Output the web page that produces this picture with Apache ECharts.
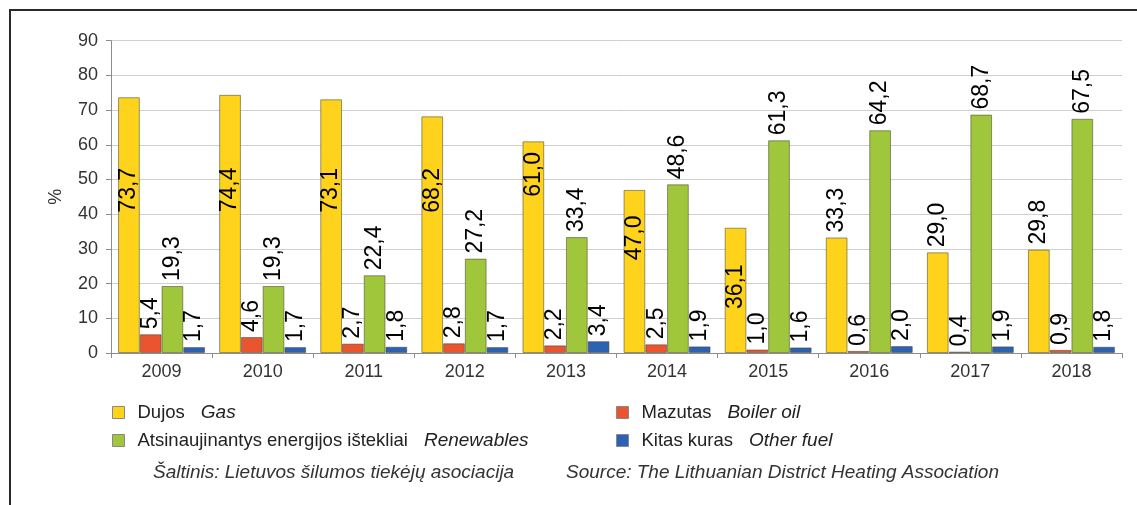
<!DOCTYPE html>
<html>
<head>
<meta charset="utf-8">
<script src="https://cdn.jsdelivr.net/npm/echarts@6/dist/echarts.min.js"></script>
<style>
  html, body { margin: 0; padding: 0; background: #fff; }
  #chart { width: 1137px; height: 505px; }
</style>
</head>
<body>
<div id="chart"></div>
<script>
// Heat production fuel structure in district heating, %
const years = ['2009', '2010', '2011', '2012', '2013', '2014', '2015', '2016', '2017', '2018'];
const gas = [73.7, 74.4, 73.1, 68.2, 61.0, 47.0, 36.1, 33.3, 29.0, 29.8];
const boilerOil = [5.4, 4.6, 2.7, 2.8, 2.2, 2.5, 1.0, 0.6, 0.4, 0.9];
const renewables = [19.3, 19.3, 22.4, 27.2, 33.4, 48.6, 61.3, 64.2, 68.7, 67.5];
const otherFuel = [1.7, 1.7, 1.8, 1.7, 3.4, 1.9, 1.6, 2.0, 1.9, 1.8];
const yTicks = [0, 10, 20, 30, 40, 50, 60, 70, 80, 90];

const seriesNames = {
  gas: ['Dujos', 'Gas'],
  oil: ['Mazutas', 'Boiler oil'],
  ren: ['Atsinaujinantys energijos ištekliai', 'Renewables'],
  other: ['Kitas kuras', 'Other fuel']
};

const colors = {
  gas: '#FFD31C',
  oil: '#EA5530',
  ren: '#A0C63C',
  other: '#2D62B2'
};

const FONT = '"Liberation Sans", Arial, sans-serif';
const fmt = v => v.toFixed(1).replace('.', ',');

// Rotated value label sitting above a bar
const topLabel = {
  show: true,
  position: 'top',
  rotate: 90,
  align: 'left',
  verticalAlign: 'middle',
  distance: 5,
  fontFamily: FONT,
  fontSize: 23,
  color: '#000',
  formatter: p => fmt(p.value)
};

// Gas labels for the tall bars are placed inside the bar
// (pixel offset of the label centre below the bar top)
const gasInsideOffset = [93, 95, 91, 74, 33, 48, 59];

function gasData() {
  return gas.map((v, i) => {
    if (i < gasInsideOffset.length) {
      return {
        value: v,
        label: {
          position: ['50%', gasInsideOffset[i]],
          align: 'center',
          verticalAlign: 'middle',
          distance: 0
        }
      };
    }
    return v;
  });
}

function barSeries(key, data) {
  return {
    name: seriesNames[key][0],
    type: 'bar',
    data: data,
    barGap: 0,
    barCategoryGap: '14%',
    itemStyle: {
      color: colors[key],
      borderColor: 'rgba(70,70,50,0.55)',
      borderWidth: 1
    },
    label: Object.assign({}, topLabel),
    emphasis: { disabled: true },
    animation: false
  };
}

const legendRich = {
  a: { fontFamily: FONT, fontSize: 18.5, lineHeight: 18, color: '#222', padding: [0, 0, 0, 8] },
  b: { fontFamily: FONT, fontSize: 19, lineHeight: 18, color: '#222', fontStyle: 'italic', padding: [0, 0, 0, 16] }
};
const legendFormatter = name => {
  const key = Object.keys(seriesNames).find(k => seriesNames[k][0] === name);
  return '{a|' + name + '}{b|' + seriesNames[key][1] + '}';
};
const legendBase = {
  orient: 'vertical',
  icon: 'rect',
  itemWidth: 12,
  itemHeight: 12,
  itemGap: 9,
  itemStyle: { borderColor: '#888', borderWidth: 1 },
  textStyle: { rich: legendRich },
  formatter: legendFormatter,
  selectedMode: false
};

const chart = echarts.init(document.getElementById('chart'), null, { renderer: 'canvas' });

chart.setOption({
  backgroundColor: '#fff',
  animation: false,
  grid: { left: 111, right: 15, top: 40.7, bottom: 152, containLabel: false },
  legend: [
    Object.assign({}, legendBase, { left: 107, top: 398, data: [seriesNames.gas[0], seriesNames.ren[0]] }),
    Object.assign({}, legendBase, { left: 611, top: 398, data: [seriesNames.oil[0], seriesNames.other[0]] })
  ],
  xAxis: {
    type: 'category',
    data: years,
    axisLine: { lineStyle: { color: '#8c8c8c', width: 1 } },
    axisTick: { show: true, length: 5, alignWithLabel: false, lineStyle: { color: '#8c8c8c' } },
    axisLabel: { fontFamily: FONT, fontSize: 18, color: '#333', margin: 10 }
  },
  yAxis: {
    type: 'value',
    min: yTicks[0],
    max: yTicks[yTicks.length - 1],
    interval: 10,
    name: '%',
    nameLocation: 'middle',
    nameRotate: 90,
    nameGap: 46,
    nameTextStyle: { fontFamily: FONT, fontSize: 18, color: '#333' },
    axisLine: { show: true, lineStyle: { color: '#8c8c8c', width: 1 } },
    axisTick: { show: true, length: 5, lineStyle: { color: '#8c8c8c' } },
    axisLabel: { fontFamily: FONT, fontSize: 18, color: '#333', margin: 13 },
    splitLine: { lineStyle: { color: '#cfcfcf', width: 1 } }
  },
  series: [
    barSeries('gas', gasData()),
    barSeries('oil', boilerOil),
    barSeries('ren', renewables),
    barSeries('other', otherFuel)
  ],
  graphic: [
    {
      type: 'rect',
      shape: { x: 10, y: 10, width: 1300, height: 700 },
      style: { fill: null, stroke: '#2a2a2a', lineWidth: 2 },
      silent: true
    },
    {
      type: 'text',
      left: 153,
      top: 463,
      style: {
        text: 'Šaltinis: Lietuvos šilumos tiekėjų asociacija',
        font: 'italic 19px ' + FONT,
        fill: '#333'
      }
    },
    {
      type: 'text',
      left: 566,
      top: 463,
      style: {
        text: 'Source: The Lithuanian District Heating Association',
        font: 'italic 19px ' + FONT,
        fill: '#333'
      }
    }
  ]
});
</script>
</body>
</html>
